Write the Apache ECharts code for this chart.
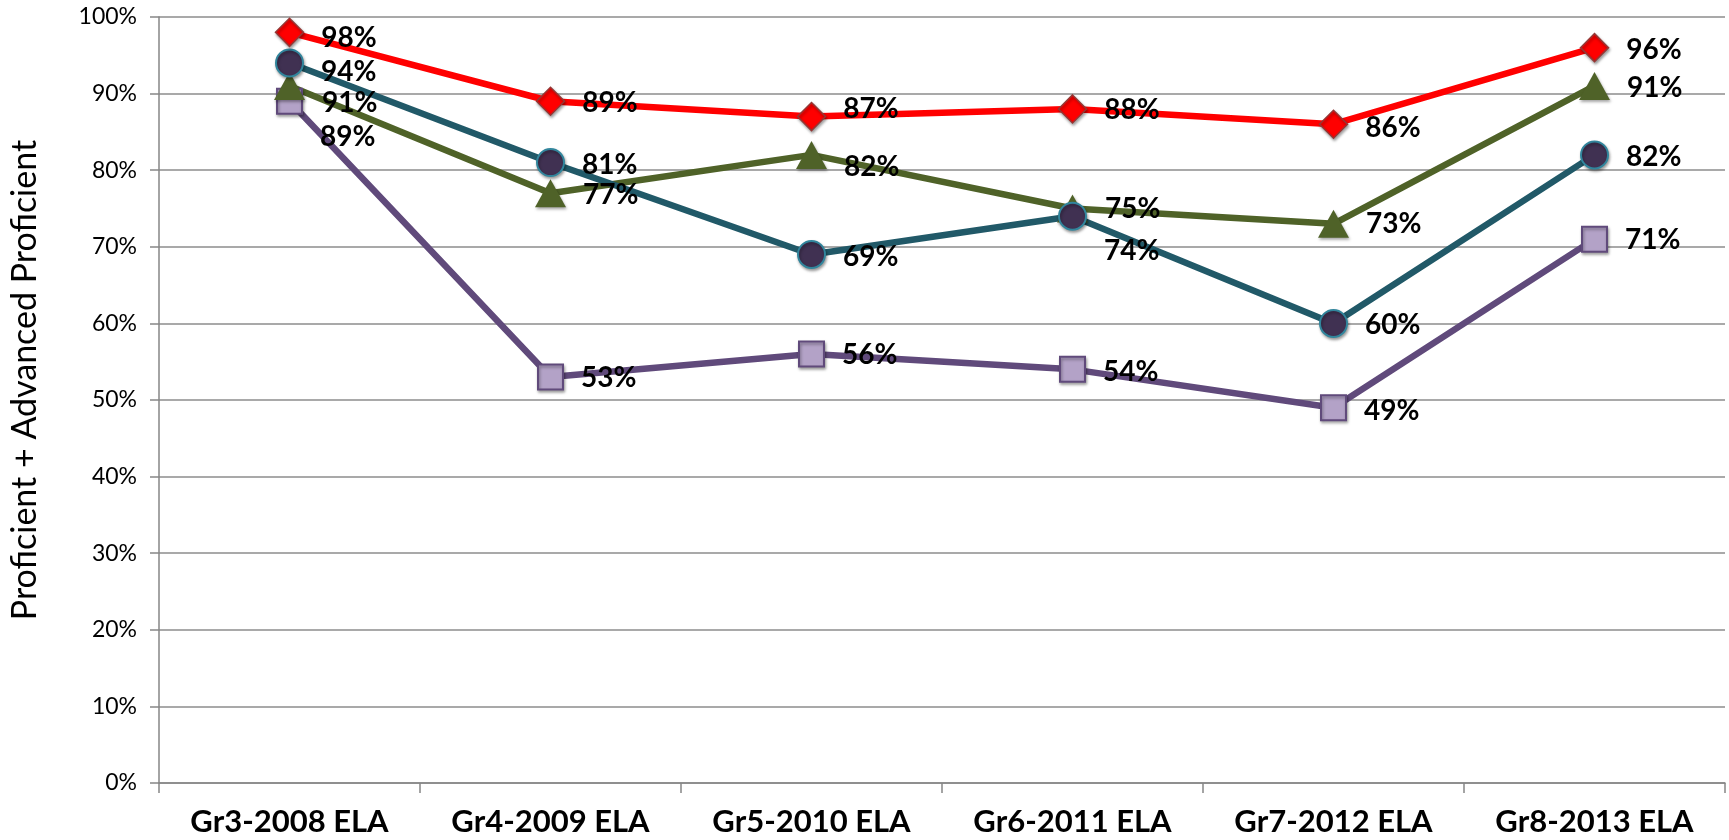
<!DOCTYPE html>
<html>
<head>
<meta charset="utf-8">
<script src="https://cdn.jsdelivr.net/npm/echarts@6/dist/echarts.min.js"></script>
<style>
  html, body { margin: 0; padding: 0; background: #fff; }
  #chart { width: 1729px; height: 840px; }
</style>
</head>
<body>
<div id="chart"></div>
<script>
// categories + values (percent)
var categories = ['Gr3-2008 ELA', 'Gr4-2009 ELA', 'Gr5-2010 ELA', 'Gr6-2011 ELA', 'Gr7-2012 ELA', 'Gr8-2013 ELA'];
var redValues    = [98, 89, 87, 88, 86, 96];
var tealValues   = [94, 81, 69, 74, 60, 82];
var oliveValues  = [91, 77, 82, 75, 73, 91];
var purpleValues = [89, 53, 56, 54, 49, 71];
var yTicks = [0, 10, 20, 30, 40, 50, 60, 70, 80, 90, 100];

// label nudges (px, vertical) so labels sit like the original
var redNudge    = [6, 2, -8, 1, 4, 2];
var tealNudge   = [9, 2, 3, 35, 2, 2];
var oliveNudge  = [17, 2, 12, 0, 0, 2];
var purpleNudge = [36, 1, 1, 3, 3, 1];

var FONT = 'Lato';

function withNudge(values, nudge) {
  return values.map(function (v, i) {
    return { value: v, label: { offset: [0, nudge[i]] } };
  });
}

function makeSeries(name, values, nudge, lineColor, symbol, size, itemStyle) {
  return {
    name: name,
    type: 'line',
    data: withNudge(values, nudge),
    symbol: symbol,
    symbolSize: size,
    showAllSymbol: true,
    animation: false,
    lineStyle: { color: lineColor, width: 6.5 },
    itemStyle: Object.assign({
      shadowColor: 'rgba(0,0,0,0.35)',
      shadowBlur: 3,
      shadowOffsetX: 1,
      shadowOffsetY: 2
    }, itemStyle),
    label: {
      show: true,
      position: 'right',
      distance: 17,
      formatter: '{c}%',
      color: '#000',
      fontFamily: FONT,
      fontWeight: 'bold',
      fontSize: 28
    }
  };
}

var chart = echarts.init(document.getElementById('chart'));
chart.setOption({
  backgroundColor: '#fff',
  grid: { left: 158, right: 4, top: 17, bottom: 57 },
  xAxis: {
    type: 'category',
    data: categories,
    boundaryGap: true,
    axisLine: { lineStyle: { color: '#868686', width: 1.5 } },
    axisTick: { show: true, length: 10, lineStyle: { color: '#868686', width: 1.5 } },
    axisLabel: {
      color: '#000', fontFamily: FONT, fontWeight: 'bold', fontSize: 31, margin: 23
    }
  },
  yAxis: {
    type: 'value',
    min: yTicks[0],
    max: yTicks[yTicks.length - 1],
    interval: 10,
    name: 'Proficient + Advanced Proficient',
    nameLocation: 'middle',
    nameGap: 117,
    nameTextStyle: { color: '#000', fontFamily: FONT, fontSize: 34, padding: [0, 0, 0, 40] },
    axisLine: { show: true, lineStyle: { color: '#868686', width: 1.5 } },
    axisTick: { show: true, length: 9, lineStyle: { color: '#868686', width: 1.5 } },
    axisLabel: {
      formatter: '{value}%', color: '#000', fontFamily: FONT, fontSize: 23, margin: 22
    },
    splitLine: { lineStyle: { color: '#8c8c8c', width: 1.5 } }
  },
  series: [
    makeSeries('Purple', purpleValues, purpleNudge, '#604a7b', 'rect', 25,
      { color: '#b3a2c7', borderColor: '#604a7b', borderWidth: 2 }),
    makeSeries('Olive', oliveValues, oliveNudge, '#4f6228', 'triangle', [31, 28],
      { color: '#4f6228', borderColor: '#4f6228', borderWidth: 0 }),
    makeSeries('Teal', tealValues, tealNudge, '#215968', 'circle', 27,
      { color: '#403152', borderColor: '#31859c', borderWidth: 2 }),
    makeSeries('Red', redValues, redNudge, '#ff0000', 'diamond', 28,
      { color: '#ff0000', borderColor: '#953735', borderWidth: 1.5 })
  ]
});
</script>
</body>
</html>
